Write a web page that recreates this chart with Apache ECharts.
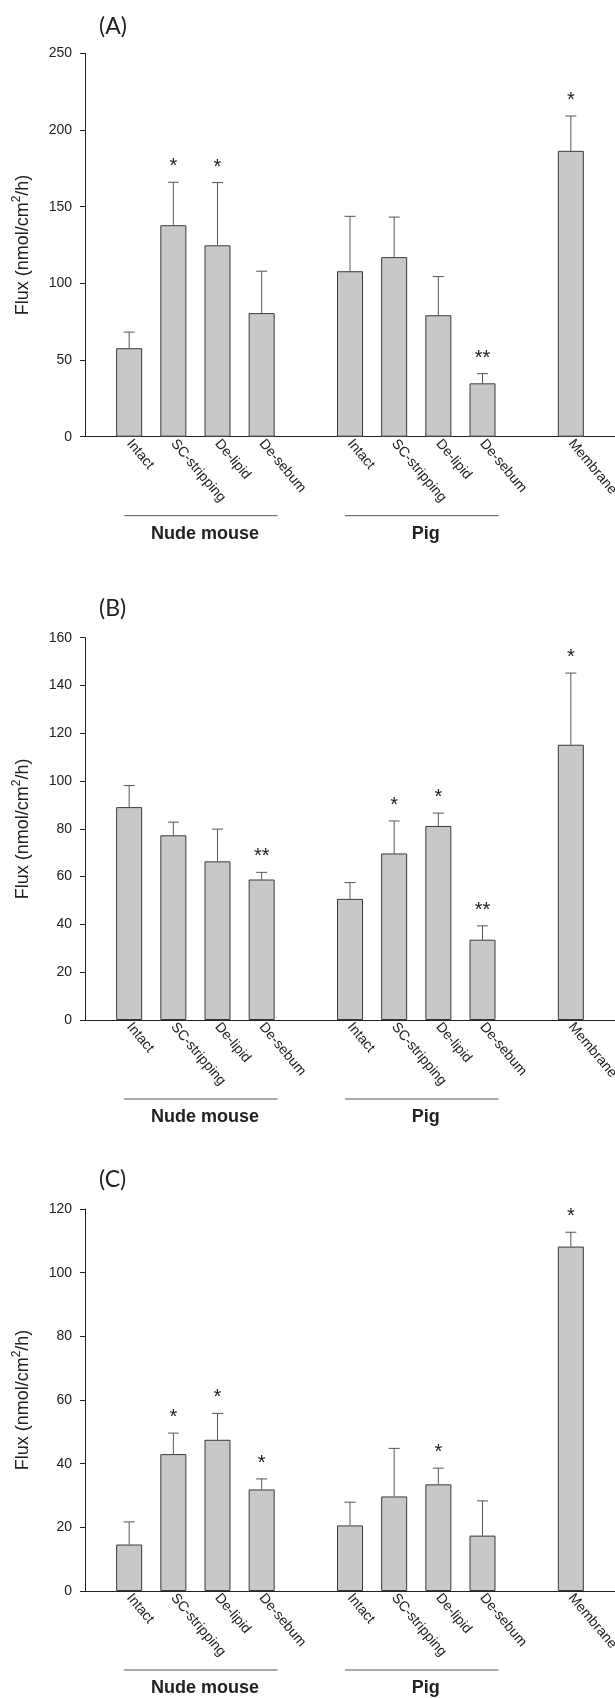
<!DOCTYPE html>
<html><head><meta charset="utf-8">
<script src="https://cdn.jsdelivr.net/npm/echarts@6/dist/echarts.min.js"></script>
<style>html,body{margin:0;padding:0;background:#fff}#c{width:615px;height:1698px}</style>
</head><body><div id="c"></div>
<script>
// ---- data ----
const categories = ['', 'Intact', 'SC-stripping', 'De-lipid', 'De-sebum', '', 'Intact', 'SC-stripping', 'De-lipid', 'De-sebum', '', 'Membrane', ''];
const panelTitles = ['(A)', '(B)', '(C)'];

const fluxA = [null, 57.7, 137.9, 124.8, 80.6, null, 107.9, 117.1, 79.2, 34.8, null, 186.4, null];
const sdA   = [null, 10.5, 28.0, 40.9, 27.3, null, 35.8, 26.1, 25.2, 6.3, null, 22.7, null];
const sigA  = ['', '', '*', '*', '', '', '', '', '', '**', '', '*', ''];

const fluxB = [null, 89.1, 77.3, 66.4, 58.8, null, 50.7, 69.7, 81.2, 33.6, null, 115.2, null];
const sdB   = [null, 9.0, 5.5, 13.5, 3.0, null, 6.8, 13.6, 5.4, 5.8, null, 30.0, null];
const sigB  = ['', '', '', '', '**', '', '', '*', '*', '**', '', '*', ''];

const fluxC = [null, 14.6, 43.0, 47.5, 31.9, null, 20.6, 29.7, 33.5, 17.4, null, 108.2, null];
const sdC   = [null, 7.1, 6.6, 8.3, 3.3, null, 7.3, 15.1, 5.1, 10.9, null, 4.5, null];
const sigC  = ['', '', '*', '*', '*', '', '', '', '*', '', '', '*', ''];

const yMaxes = [250, 160, 120];
const ySteps = [50, 20, 20];
const groupNames = ['Nude mouse', 'Pig'];
const groupFrom = [1, 6];
const groupTo = [4, 9];
const yAxisName = 'Flux (nmol/cm{sup|2}/h)';

// ---- layout ----
const panels = [
  {flux: fluxA, sd: sdA, sig: sigA},
  {flux: fluxB, sd: sdB, sig: sigB},
  {flux: fluxC, sd: sdC, sig: sigC}
];
const gridTops = [53.3, 637.7, 1209];
const gridHeights = [383.4, 382.3, 382];
const titleTops = [15, 597, 1168];
const FONT = '"Liberation Sans", Arial, sans-serif';
const TXT = '#222';

const chart = echarts.init(document.getElementById('c'), null, {renderer: 'canvas'});

const option = {
  backgroundColor: '#fff',
  animation: false,
  title: panelTitles.map((t, i) => ({
    text: t, left: 99, top: titleTops[i], padding: 0,
    textStyle: {fontFamily: 'Lato, "Open Sans", sans-serif', fontSize: 23, fontWeight: 'normal', color: TXT}
  })),
  grid: gridTops.map((t, i) => ({left: 85, width: 530, top: t, height: gridHeights[i], containLabel: false, outerBoundsMode: 'none'})),
  xAxis: panels.map((p, i) => ({
    type: 'category', gridIndex: i, data: categories, boundaryGap: false,
    axisLine: {show: true, lineStyle: {color: TXT, width: 1}},
    axisTick: {show: false},
    splitLine: {show: false},
    axisLabel: {interval: 0, rotate: -50, margin: 4.5, padding: [12, 0, 0, 0], fontSize: 14, fontFamily: FONT, color: TXT, hideOverlap: false}
  })),
  yAxis: panels.map((p, i) => ({
    type: 'value', gridIndex: i, min: 0, max: yMaxes[i], interval: ySteps[i],
    name: yAxisName, nameLocation: 'middle', nameGap: 50,
    nameTextStyle: {fontSize: 18, fontFamily: FONT, color: TXT, lineHeight: 24,
      rich: {sup: {fontSize: 12, fontFamily: FONT, color: TXT, lineHeight: 12, verticalAlign: 'top'}}},
    axisLine: {show: true, lineStyle: {color: TXT, width: 1}},
    axisTick: {show: true, inside: false, length: 5, lineStyle: {color: TXT}},
    splitLine: {show: false},
    axisLabel: {margin: 13, fontSize: 14, fontFamily: FONT, color: TXT}
  })),
  series: []
};

panels.forEach((p, i) => {
  option.series.push({
    type: 'bar', xAxisIndex: i, yAxisIndex: i, data: p.flux, barWidth: 26,
    itemStyle: {color: '#c8c8ca', borderColor: '#3a3a3a', borderWidth: 1}
  });
  const errData = [];
  p.flux.forEach((v, j) => { if (v != null) errData.push([j, v, p.sd[j]]); });
  option.series.push({
    type: 'custom', xAxisIndex: i, yAxisIndex: i, data: errData,
    encode: {x: 0, y: 1},
    renderItem: function (params, api) {
      const j = api.value(0);
      const m = api.value(1);
      const s = api.value(2);
      const a = api.coord([j, m]);
      const b = api.coord([j, m + s]);
      const children = [
        {type: 'line', shape: {x1: a[0], y1: a[1], x2: b[0], y2: b[1]}, style: {stroke: '#555', lineWidth: 1}},
        {type: 'line', shape: {x1: b[0] - 5.5, y1: b[1], x2: b[0] + 5.5, y2: b[1]}, style: {stroke: '#555', lineWidth: 1}}
      ];
      const sg = p.sig[j];
      if (sg) {
        children.push({type: 'text', style: {text: sg, x: b[0], y: b[1] - 15.5, align: 'center', verticalAlign: 'middle',
          fontSize: 20, fontFamily: FONT, fill: TXT}});
      }
      return {type: 'group', children: children};
    }
  });
  option.series.push({
    type: 'custom', xAxisIndex: i, yAxisIndex: i,
    data: groupNames.map((g, k) => [groupFrom[k], 0]),
    encode: {x: 0, y: 1},
    renderItem: function (params, api) {
      const k = params.dataIndex;
      const p0 = api.coord([groupFrom[k], 0]);
      const p1 = api.coord([groupTo[k], 0]);
      const x0 = p0[0] - 5, x1 = p1[0] + 16, y = p0[1] + 79;
      return {type: 'group', children: [
        {type: 'line', shape: {x1: x0, y1: y, x2: x1, y2: y}, style: {stroke: '#555', lineWidth: 1}},
        {type: 'text', style: {text: groupNames[k], x: (x0 + x1) / 2 + 4, y: y + 18, align: 'center', verticalAlign: 'middle',
          fontSize: 18, fontWeight: 'bold', fontFamily: FONT, fill: TXT}}
      ]};
    }
  });
});

chart.setOption(option);
</script>
</body></html>
